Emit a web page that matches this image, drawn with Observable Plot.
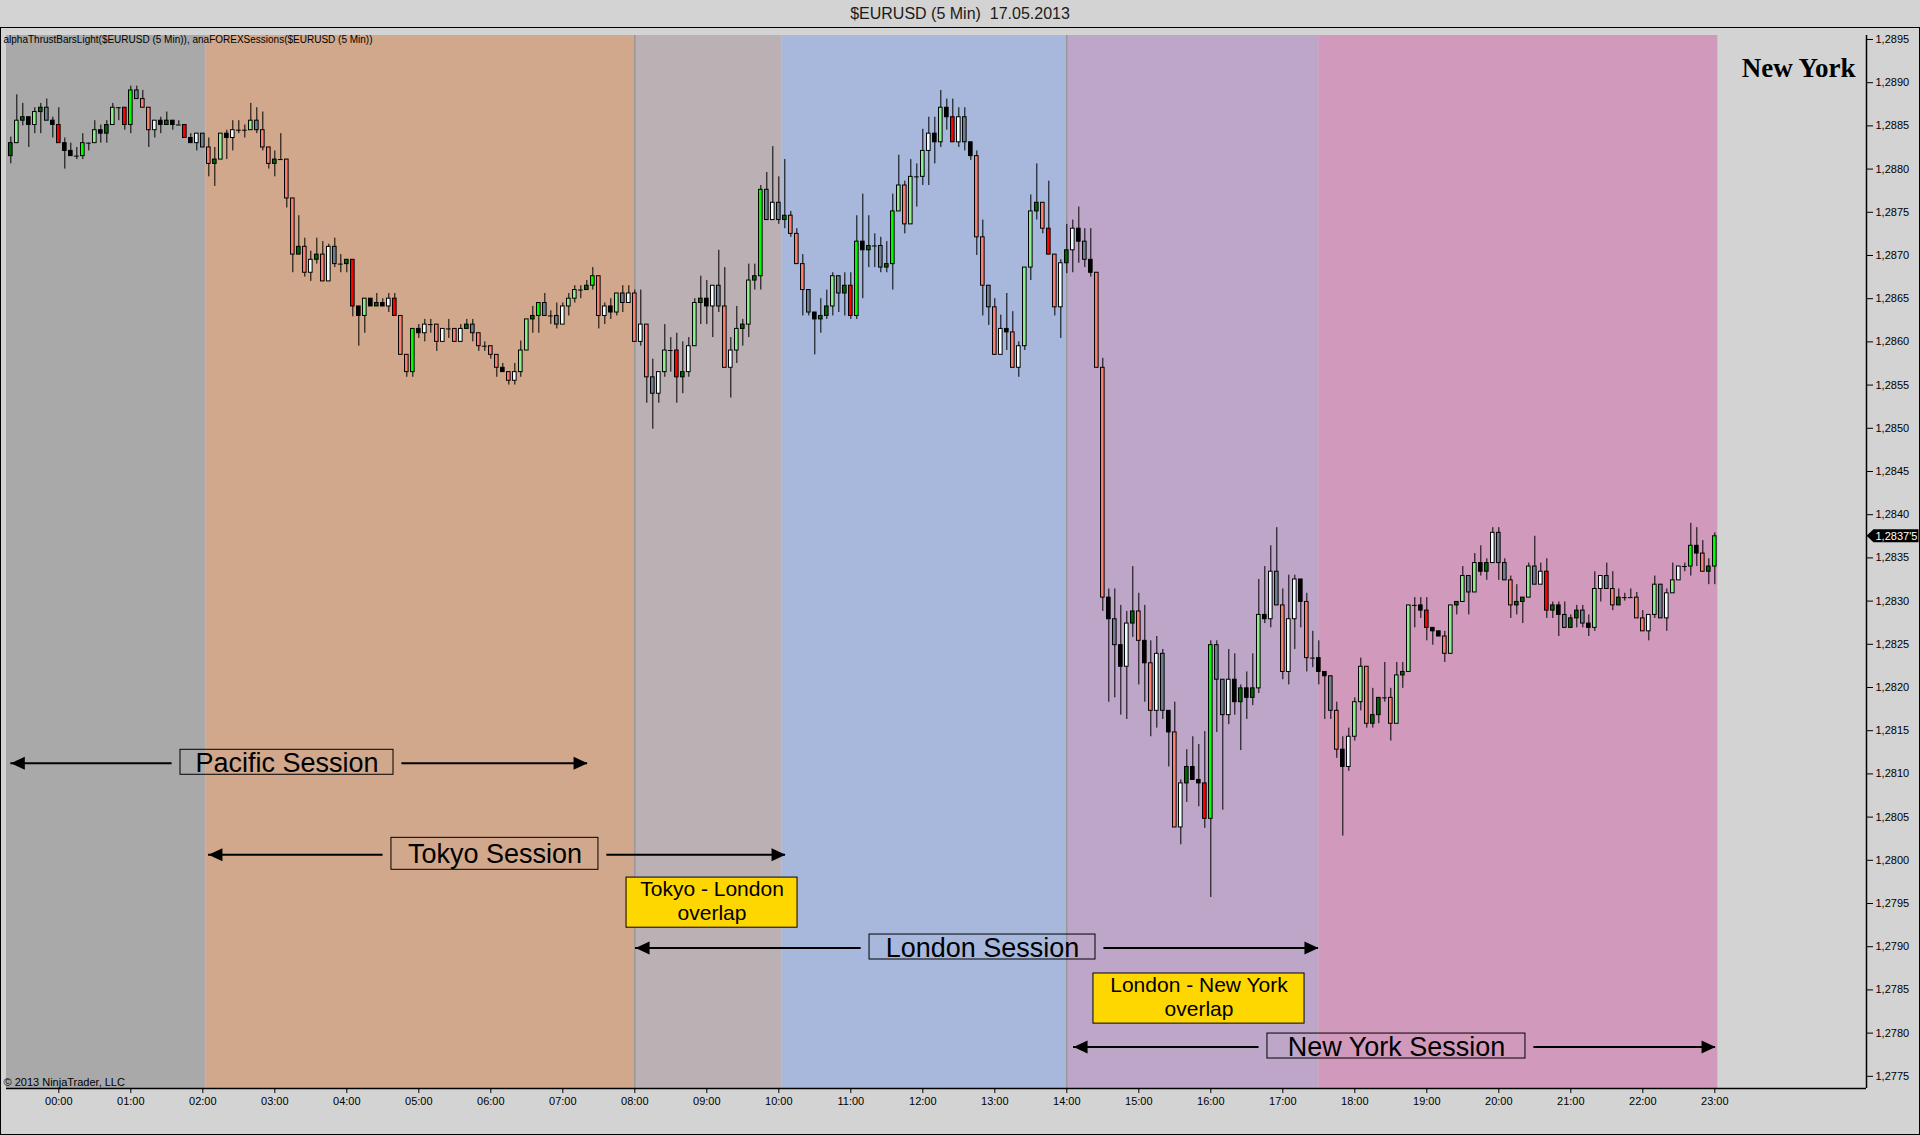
<!DOCTYPE html>
<html>
<head>
<meta charset="utf-8">
<script src="https://cdn.jsdelivr.net/npm/d3@7"></script>
<script src="https://cdn.jsdelivr.net/npm/@observablehq/plot@0.6"></script>
<style>
html, body { margin: 0; padding: 0; background: #d3d3d3; }
#wrap { position: relative; width: 1920px; height: 1135px; overflow: hidden; background: #d3d3d3; font-family: "Liberation Sans", Arial, sans-serif; }
#title { position: absolute; left: 0; top: 0; width: 1920px; height: 27px; line-height: 27px; text-align: center; font-size: 16px; color: #1a1a1a; }
#chart { position: absolute; left: 0; top: 28px; }
#frame { position: absolute; left: 0; top: 27px; width: 1918px; height: 1106px; border: 1px solid #000; pointer-events: none; }
</style>
</head>
<body>
<div id="wrap">
  <div id="title">$EURUSD (5 Min)&nbsp;&nbsp;17.05.2013</div>
  <div id="chart"></div>
  <div id="frame"></div>
</div>
<script>
// ---------- DATA ----------
// 5-minute bars, first bar 23:20 (16.05.2013), minutes relative to 00:00 of 17.05.2013
const firstBarMinute = -40;
const barMinutes = 5;

// alphaThrustBars colour class of each bar
const thrust = [
 "dg","lg","dg","k","lg","dg","gr","k","r","k",
 "k","k","g","k","lg","k","dg","lg","k","r",
 "g","gr","s","s","w","k","dg","k","k","r",
 "k","w","gr","s","dg","lg","k","w","k","k",
 "lg","gr","s","s","dg","k","s","s","dg","s",
 "w","dg","s","w","gr","k","dg","r","k","lg",
 "k","dg","k","w","r","s","s","g","k","w",
 "k","s","w","k","s","w","dg","gr","s","k",
 "s","s","k","s","w","lg","lg","dg","g","gr",
 "k","gr","w","lg","lg","k","dg","g","s","w",
 "k","lg","gr","w","s","w","s","gr","w","lg",
 "k","r","dg","w","lg","dg","k","w","gr","s",
 "w","lg","dg","lg","dg","g","gr","w","gr","dg",
 "s","s","s","gr","k","dg","dg","lg","gr","dg",
 "r","g","k","dg","k","gr","dg","g","lg","s",
 "lg","k","lg","w","k","lg","k","r","w","gr",
 "k","s","s","gr","s","w","k","s","w","lg",
 "lg","dg","s","r","s","w","dg","w","k","gr",
 "k","s","s","k","gr","k","w","dg","s","k",
 "s","w","gr","k","s","w","dg","k","k","r",
 "g","gr","gr","w","k","dg","k","dg","lg","k",
 "w","gr","s","w","w","k","s","k","k","k",
 "gr","s","k","w","lg","lg","s","dg","dg","k",
 "s","lg","dg","lg","k","k","r","k","k","s",
 "lg","dg","lg","gr","lg","k","dg","w","gr","gr",
 "s","dg","dg","lg","gr","w","r","dg","k","gr",
 "dg","dg","gr","k","lg","w","gr","s","dg","k",
 "k","s","s","w","lg","gr","w","lg","w","k",
 "g","k","s","dg","g"
];

const open = [
 1.28815,1.28830,1.28856,1.28860,1.28851,1.28866,1.28871,1.28856,1.28851,1.28830,
 1.28821,1.28815,1.28815,1.28830,1.28830,1.28845,1.28841,1.28851,1.28871,1.28871,
 1.28851,1.28891,1.28881,1.28871,1.28845,1.28856,1.28851,1.28856,1.28851,1.28851,
 1.28836,1.28830,1.28841,1.28825,1.28806,1.28811,1.28841,1.28836,1.28845,1.28845,
 1.28845,1.28856,1.28845,1.28825,1.28806,1.28811,1.28811,1.28766,1.28701,1.28710,
 1.28680,1.28695,1.28701,1.28670,1.28710,1.28690,1.28690,1.28695,1.28641,1.28630,
 1.28650,1.28641,1.28645,1.28641,1.28650,1.28630,1.28585,1.28565,1.28615,1.28610,
 1.28620,1.28620,1.28600,1.28615,1.28615,1.28600,1.28615,1.28620,1.28610,1.28595,
 1.28595,1.28585,1.28570,1.28565,1.28555,1.28565,1.28590,1.28626,1.28630,1.28645,
 1.28630,1.28630,1.28620,1.28641,1.28650,1.28660,1.28660,1.28665,1.28676,1.28630,
 1.28641,1.28634,1.28656,1.28645,1.28656,1.28600,1.28620,1.28559,1.28540,1.28565,
 1.28590,1.28590,1.28559,1.28565,1.28595,1.28645,1.28650,1.28641,1.28665,1.28641,
 1.28570,1.28590,1.28615,1.28620,1.28671,1.28676,1.28776,1.28741,1.28761,1.28741,
 1.28746,1.28725,1.28690,1.28660,1.28634,1.28626,1.28630,1.28641,1.28676,1.28656,
 1.28665,1.28630,1.28716,1.28706,1.28711,1.28711,1.28686,1.28690,1.28751,1.28781,
 1.28736,1.28791,1.28791,1.28821,1.28841,1.28831,1.28871,1.28860,1.28831,1.28860,
 1.28831,1.28815,1.28721,1.28665,1.28640,1.28585,1.28615,1.28611,1.28570,1.28595,
 1.28686,1.28751,1.28761,1.28731,1.28701,1.28640,1.28691,1.28706,1.28731,1.28716,
 1.28695,1.28680,1.28570,1.28304,1.28279,1.28249,1.28224,1.28274,1.28288,1.28254,
 1.28228,1.28173,1.28239,1.28173,1.28148,1.28038,1.28089,1.28108,1.28093,1.28089,
 1.28048,1.28249,1.28209,1.28168,1.28209,1.28183,1.28199,1.28188,1.28199,1.28284,
 1.28279,1.28334,1.28295,1.28218,1.28279,1.28325,1.28299,1.28234,1.28234,1.28218,
 1.28213,1.28173,1.28128,1.28108,1.28143,1.28183,1.28224,1.28158,1.28168,1.28188,
 1.28188,1.28158,1.28214,1.28218,1.28295,1.28295,1.28289,1.28269,1.28265,1.28259,
 1.28239,1.28295,1.28299,1.28329,1.28310,1.28344,1.28334,1.28344,1.28379,1.28344,
 1.28324,1.28295,1.28299,1.28304,1.28340,1.28319,1.28334,1.28289,1.28295,1.28284,
 1.28269,1.28280,1.28289,1.28274,1.28269,1.28314,1.28329,1.28314,1.28295,1.28304,
 1.28304,1.28304,1.28280,1.28265,1.28284,1.28319,1.28280,1.28309,1.28324,1.28340,
 1.28340,1.28364,1.28355,1.28334,1.28340
];

const high = [
 1.28837,1.28886,1.28876,1.28860,1.28871,1.28876,1.28881,1.28860,1.28871,1.28836,
 1.28830,1.28825,1.28841,1.28830,1.28856,1.28851,1.28856,1.28876,1.28871,1.28871,
 1.28896,1.28896,1.28891,1.28871,1.28856,1.28860,1.28866,1.28856,1.28856,1.28851,
 1.28841,1.28841,1.28841,1.28836,1.28825,1.28841,1.28845,1.28856,1.28856,1.28851,
 1.28876,1.28871,1.28866,1.28825,1.28821,1.28841,1.28811,1.28766,1.28746,1.28720,
 1.28705,1.28720,1.28716,1.28713,1.28720,1.28701,1.28695,1.28695,1.28641,1.28650,
 1.28650,1.28656,1.28650,1.28656,1.28656,1.28630,1.28585,1.28615,1.28620,1.28626,
 1.28626,1.28620,1.28615,1.28626,1.28615,1.28620,1.28626,1.28626,1.28610,1.28600,
 1.28595,1.28585,1.28575,1.28565,1.28575,1.28601,1.28626,1.28641,1.28645,1.28656,
 1.28636,1.28645,1.28645,1.28656,1.28665,1.28665,1.28671,1.28686,1.28676,1.28645,
 1.28650,1.28656,1.28665,1.28665,1.28660,1.28660,1.28620,1.28580,1.28565,1.28620,
 1.28605,1.28610,1.28600,1.28605,1.28650,1.28676,1.28671,1.28665,1.28706,1.28686,
 1.28605,1.28641,1.28626,1.28690,1.28690,1.28781,1.28796,1.28826,1.28791,1.28811,
 1.28751,1.28731,1.28701,1.28660,1.28634,1.28650,1.28660,1.28680,1.28676,1.28680,
 1.28680,1.28746,1.28771,1.28746,1.28725,1.28721,1.28716,1.28771,1.28816,1.28786,
 1.28811,1.28806,1.28846,1.28860,1.28860,1.28891,1.28881,1.28881,1.28871,1.28871,
 1.28831,1.28821,1.28741,1.28665,1.28650,1.28631,1.28656,1.28635,1.28600,1.28686,
 1.28770,1.28806,1.28761,1.28786,1.28701,1.28695,1.28736,1.28741,1.28756,1.28731,
 1.28731,1.28680,1.28581,1.28314,1.28314,1.28295,1.28288,1.28340,1.28309,1.28295,
 1.28254,1.28259,1.28244,1.28173,1.28183,1.28093,1.28128,1.28143,1.28134,1.28149,
 1.28254,1.28254,1.28209,1.28244,1.28239,1.28203,1.28218,1.28239,1.28325,1.28340,
 1.28364,1.28385,1.28314,1.28330,1.28330,1.28325,1.28309,1.28265,1.28254,1.28218,
 1.28213,1.28183,1.28143,1.28153,1.28188,1.28234,1.28224,1.28199,1.28188,1.28229,
 1.28199,1.28229,1.28229,1.28295,1.28304,1.28304,1.28304,1.28269,1.28265,1.28265,
 1.28295,1.28299,1.28340,1.28329,1.28355,1.28364,1.28349,1.28385,1.28385,1.28349,
 1.28329,1.28319,1.28304,1.28344,1.28375,1.28344,1.28349,1.28299,1.28299,1.28299,
 1.28284,1.28295,1.28295,1.28284,1.28334,1.28329,1.28344,1.28334,1.28314,1.28309,
 1.28314,1.28310,1.28289,1.28284,1.28329,1.28319,1.28314,1.28344,1.28340,1.28344,
 1.28390,1.28385,1.28370,1.28349,1.28379
];

const low = [
 1.28806,1.28830,1.28850,1.28825,1.28841,1.28841,1.28856,1.28836,1.28830,1.28800,
 1.28815,1.28811,1.28811,1.28821,1.28830,1.28830,1.28830,1.28851,1.28856,1.28845,
 1.28841,1.28881,1.28871,1.28825,1.28836,1.28841,1.28851,1.28845,1.28851,1.28836,
 1.28830,1.28821,1.28825,1.28791,1.28780,1.28811,1.28811,1.28821,1.28841,1.28836,
 1.28845,1.28841,1.28821,1.28800,1.28791,1.28811,1.28755,1.28680,1.28701,1.28675,
 1.28670,1.28690,1.28670,1.28670,1.28686,1.28680,1.28680,1.28629,1.28595,1.28610,
 1.28641,1.28641,1.28641,1.28634,1.28630,1.28585,1.28559,1.28559,1.28604,1.28600,
 1.28610,1.28589,1.28600,1.28604,1.28600,1.28600,1.28615,1.28600,1.28589,1.28589,
 1.28580,1.28559,1.28565,1.28550,1.28550,1.28559,1.28590,1.28610,1.28610,1.28630,
 1.28620,1.28615,1.28620,1.28630,1.28645,1.28650,1.28660,1.28660,1.28615,1.28620,
 1.28626,1.28630,1.28634,1.28645,1.28600,1.28595,1.28529,1.28499,1.28529,1.28559,
 1.28565,1.28529,1.28540,1.28559,1.28595,1.28620,1.28620,1.28605,1.28634,1.28570,
 1.28535,1.28575,1.28595,1.28605,1.28660,1.28660,1.28741,1.28741,1.28736,1.28731,
 1.28721,1.28690,1.28630,1.28630,1.28585,1.28610,1.28626,1.28630,1.28634,1.28630,
 1.28626,1.28626,1.28650,1.28686,1.28686,1.28680,1.28680,1.28660,1.28751,1.28725,
 1.28736,1.28756,1.28781,1.28781,1.28806,1.28825,1.28845,1.28831,1.28825,1.28821,
 1.28810,1.28700,1.28630,1.28619,1.28585,1.28585,1.28590,1.28570,1.28559,1.28590,
 1.28671,1.28741,1.28725,1.28701,1.28630,1.28604,1.28679,1.28680,1.28691,1.28686,
 1.28675,1.28570,1.28288,1.28183,1.28188,1.28168,1.28163,1.28258,1.28203,1.28183,
 1.28143,1.28153,1.28163,1.28108,1.28038,1.28018,1.28067,1.28093,1.28062,1.28037,
 1.27957,1.28148,1.28058,1.28157,1.28168,1.28127,1.28163,1.28179,1.28193,1.28274,
 1.28269,1.28295,1.28209,1.28203,1.28244,1.28269,1.28218,1.28223,1.28203,1.28163,
 1.28163,1.28118,1.28028,1.28103,1.28138,1.28173,1.28153,1.28153,1.28158,1.28183,
 1.28138,1.28158,1.28199,1.28218,1.28269,1.28280,1.28254,1.28249,1.28259,1.28229,
 1.28239,1.28284,1.28299,1.28284,1.28310,1.28329,1.28324,1.28344,1.28324,1.28324,
 1.28280,1.28284,1.28274,1.28304,1.28319,1.28319,1.28280,1.28280,1.28259,1.28269,
 1.28269,1.28269,1.28269,1.28259,1.28265,1.28299,1.28314,1.28289,1.28295,1.28300,
 1.28304,1.28280,1.28265,1.28254,1.28280,1.28280,1.28265,1.28309,1.28324,1.28334,
 1.28329,1.28340,1.28334,1.28319,1.28319
];

const close = [
 1.28830,1.28856,1.28860,1.28851,1.28866,1.28871,1.28856,1.28851,1.28830,1.28821,
 1.28815,1.28815,1.28830,1.28830,1.28845,1.28841,1.28851,1.28871,1.28871,1.28851,
 1.28891,1.28881,1.28871,1.28845,1.28856,1.28851,1.28856,1.28851,1.28851,1.28836,
 1.28830,1.28841,1.28825,1.28806,1.28811,1.28841,1.28836,1.28845,1.28845,1.28845,
 1.28856,1.28845,1.28825,1.28806,1.28811,1.28811,1.28766,1.28701,1.28710,1.28680,
 1.28695,1.28701,1.28670,1.28710,1.28690,1.28690,1.28695,1.28641,1.28630,1.28650,
 1.28641,1.28645,1.28641,1.28650,1.28630,1.28585,1.28565,1.28615,1.28610,1.28620,
 1.28620,1.28600,1.28615,1.28615,1.28600,1.28615,1.28620,1.28610,1.28595,1.28595,
 1.28585,1.28570,1.28565,1.28555,1.28565,1.28590,1.28626,1.28630,1.28645,1.28630,
 1.28630,1.28620,1.28641,1.28650,1.28660,1.28660,1.28665,1.28676,1.28630,1.28641,
 1.28634,1.28656,1.28645,1.28656,1.28600,1.28620,1.28559,1.28540,1.28565,1.28590,
 1.28590,1.28559,1.28565,1.28595,1.28645,1.28650,1.28641,1.28665,1.28641,1.28570,
 1.28590,1.28615,1.28620,1.28671,1.28676,1.28776,1.28741,1.28761,1.28741,1.28746,
 1.28725,1.28690,1.28660,1.28634,1.28626,1.28630,1.28641,1.28676,1.28656,1.28665,
 1.28630,1.28716,1.28706,1.28711,1.28711,1.28686,1.28690,1.28751,1.28781,1.28736,
 1.28791,1.28791,1.28821,1.28841,1.28831,1.28871,1.28860,1.28831,1.28860,1.28831,
 1.28815,1.28721,1.28665,1.28640,1.28585,1.28615,1.28611,1.28570,1.28595,1.28686,
 1.28751,1.28761,1.28731,1.28701,1.28640,1.28691,1.28706,1.28731,1.28716,1.28695,
 1.28680,1.28570,1.28304,1.28279,1.28249,1.28224,1.28274,1.28288,1.28254,1.28228,
 1.28173,1.28239,1.28173,1.28148,1.28038,1.28089,1.28108,1.28093,1.28089,1.28048,
 1.28249,1.28209,1.28168,1.28209,1.28183,1.28199,1.28188,1.28199,1.28284,1.28279,
 1.28334,1.28295,1.28218,1.28279,1.28325,1.28299,1.28234,1.28234,1.28218,1.28213,
 1.28173,1.28128,1.28108,1.28143,1.28183,1.28224,1.28158,1.28168,1.28188,1.28188,
 1.28158,1.28214,1.28218,1.28295,1.28295,1.28289,1.28269,1.28265,1.28259,1.28239,
 1.28295,1.28299,1.28329,1.28310,1.28344,1.28334,1.28344,1.28379,1.28344,1.28324,
 1.28295,1.28299,1.28304,1.28340,1.28319,1.28334,1.28289,1.28295,1.28284,1.28269,
 1.28280,1.28289,1.28274,1.28269,1.28314,1.28329,1.28314,1.28295,1.28304,1.28304,
 1.28304,1.28280,1.28265,1.28284,1.28319,1.28280,1.28309,1.28324,1.28340,1.28340,
 1.28364,1.28355,1.28334,1.28340,1.28375
];

const hourLabels = ["00:00","01:00","02:00","03:00","04:00","05:00","06:00","07:00",
  "08:00","09:00","10:00","11:00","12:00","13:00","14:00","15:00",
  "16:00","17:00","18:00","19:00","20:00","21:00","22:00","23:00"];
const priceTicks = [1.2775,1.2780,1.2785,1.2790,1.2795,1.2800,1.2805,1.2810,1.2815,
  1.2820,1.2825,1.2830,1.2835,1.2840,1.2845,1.2850,1.2855,1.2860,1.2865,1.2870,
  1.2875,1.2880,1.2885,1.2890,1.2895];

// session shading (minutes from midnight)
const sessionNames = ["Pacific","Tokyo","Tokyo - London overlap","London","London - New York overlap","New York"];
const sessionStart = [-43.6, 122.5, 480, 602.5, 840, 1050];
const sessionEnd   = [122.5, 480, 602.5, 840, 1050, 1382.5];
const sessionBoundaries = [480, 840];

// session annotations
const sessionLabels = ["Pacific Session","Tokyo Session","London Session","New York Session"];
const labelMinute   = [190.2, 363.5, 769.7, 1114.7];
const labelPrice    = [1.281134, 1.280075, 1.278997, 1.277851];
const labelBoxFrom  = [101.4, 277.2, 675.6, 1007.2];
const labelBoxTo    = [278.9, 449.7, 863.9, 1222.2];
const labelBoxTop   = [1.281279, 1.280260, 1.279141, 1.277995];
const labelBoxBottom= [1.280990, 1.279890, 1.278852, 1.277706];
const arrowFrom     = [-40, 124.7, 480.6, 845.6];
const arrowTo       = [440.6, 605.6, 1049.7, 1380.6];

const overlapLabels = ["Tokyo - London\noverlap", "London - New York\noverlap"];
const overlapFrom   = [473.1, 862.2];
const overlapTo     = [615.6, 1038.1];
const overlapTop    = [1.27980, 1.27869];
const overlapBottom = [1.27922, 1.27811];

const indicatorText = "alphaThrustBarsLight($EURUSD (5 Min)), anaFOREXSessions($EURUSD (5 Min))";
const copyrightText = "\u00A9 2013 NinjaTrader, LLC";
const currentSession = "New York";

// ---------- STYLES ----------
const thrustColor = {lg: "#90EE90", g: "#00FF00", dg: "#006400", r: "#FF0000", s: "#FA8072", k: "#000000", w: "#F0FFFF", gr: "#708090"};
const sessionFill = {
  "Pacific": "#A9A9A9",
  "Tokyo": "#D1A88B",
  "Tokyo - London overlap": "#BBB0B4",
  "London": "#A7B8DC",
  "London - New York overlap": "#BEA6C9",
  "New York": "#D19ABC"
};
const xDomain = [-43.6, 1506.4];
const yDomain = [1.277359, 1.289546];
const labelFont = "'Liberation Sans', Arial, sans-serif";

// ---------- BUILD ----------
const bars = open.map((o, i) => ({
  t: firstBarMinute + barMinutes * i,
  open: o, high: high[i], low: low[i], close: close[i], thrust: thrust[i]
}));
const bodies = bars.filter(d => d.open !== d.close);
const dojis = bars.filter(d => d.open === d.close);
const sessions = sessionNames.map((name, i) => ({name, start: sessionStart[i], end: sessionEnd[i]}));
const labels = sessionLabels.map((text, i) => ({
  text, x: labelMinute[i], y: labelPrice[i],
  bx1: labelBoxFrom[i], bx2: labelBoxTo[i], by1: labelBoxBottom[i], by2: labelBoxTop[i],
  a1: arrowFrom[i], a2: arrowTo[i]
}));
const overlaps = overlapLabels.map((text, i) => ({
  text, x1: overlapFrom[i], x2: overlapTo[i], y1: overlapBottom[i], y2: overlapTop[i]
}));
const gap = 7;

const arrowRight = {draw(ctx) { ctx.moveTo(0, 0); ctx.lineTo(-14, -6.5); ctx.lineTo(-14, 6.5); ctx.closePath(); }};
const arrowLeft  = {draw(ctx) { ctx.moveTo(0, 0); ctx.lineTo(14, -6.5); ctx.lineTo(14, 6.5); ctx.closePath(); }};

const lastClose = close[close.length - 1];
function priceTag(index, scales, values, dimensions) {
  const y = scales.y(lastClose);
  const x0 = dimensions.width - dimensions.marginRight + 0.5;
  const s = lastClose.toFixed(5).replace(".", ",");
  const label = s.slice(0, -1) + "'" + s.slice(-1);
  const g = d3.create("svg:g");
  g.append("path")
    .attr("d", `M${x0},${y} L${x0 + 7},${y - 6.5} H${x0 + 52} V${y + 6.5} H${x0 + 7} Z`)
    .attr("fill", "#000");
  g.append("text")
    .attr("x", x0 + 9).attr("y", y).attr("dy", "0.35em")
    .attr("text-anchor", "start")
    .attr("fill", "#fff").attr("font-size", 11)
    .attr("font-family", labelFont)
    .text(label);
  return g.node();
}

const chart = Plot.plot({
  width: 1920,
  height: 1107,
  marginLeft: 6,
  marginRight: 54,
  marginTop: 7,
  marginBottom: 47,
  style: {background: "transparent", color: "#000", fontFamily: labelFont, fontSize: "11px", overflow: "visible"},
  x: {type: "linear", domain: xDomain},
  y: {type: "linear", domain: yDomain},
  marks: [
    // sessions
    Plot.rect(sessions, {x1: "start", x2: "end", y1: yDomain[0], y2: yDomain[1], fill: d => sessionFill[d.name]}),
    Plot.ruleX(sessionBoundaries, {stroke: "#8a8a8a", strokeWidth: 1}),
    // candles
    Plot.ruleX(bars, {x: "t", y1: "low", y2: "high", stroke: "#000", strokeWidth: 1}),
    Plot.rect(bodies, {x1: d => d.t - 1.5, x2: d => d.t + 1.5, y1: "open", y2: "close",
      fill: d => thrustColor[d.thrust], stroke: "#000", strokeWidth: 1}),
    Plot.ruleY(dojis, {x1: d => d.t - 2, x2: d => d.t + 2, y: "close", stroke: "#000", strokeWidth: 1}),
    // session annotations
    Plot.rect(labels, {x1: "bx1", x2: "bx2", y1: "by1", y2: "by2", fill: "none", stroke: "#000", strokeWidth: 1}),
    Plot.text(labels, {x: "x", y: "y", text: "text", fontSize: 27, fill: "#000", fontFamily: labelFont, lineAnchor: "middle", dy: 1}),
    Plot.ruleY(labels, {x1: "a1", x2: d => d.bx1 - gap, y: "y", stroke: "#000", strokeWidth: 2, dy: 1}),
    Plot.ruleY(labels, {x1: d => d.bx2 + gap, x2: "a2", y: "y", stroke: "#000", strokeWidth: 2, dy: 1}),
    Plot.dot(labels, {x: "a1", y: "y", symbol: arrowLeft, r: 6, fill: "#000", dy: 1}),
    Plot.dot(labels, {x: "a2", y: "y", symbol: arrowRight, r: 6, fill: "#000", dy: 1}),
    Plot.rect(overlaps, {x1: "x1", x2: "x2", y1: "y1", y2: "y2", fill: "#FFD700", stroke: "#000", strokeWidth: 1}),
    Plot.text(overlaps, {x: d => (d.x1 + d.x2) / 2, y: d => (d.y1 + d.y2) / 2, text: "text", fontSize: 21,
      lineHeight: 1.15, fill: "#000", fontFamily: labelFont, lineAnchor: "middle", dy: -2}),
    // texts
    Plot.text([indicatorText], {frameAnchor: "top-left", dx: -3, dy: 4.5, fontSize: 10, fill: "#000", lineAnchor: "middle", textAnchor: "start"}),
    Plot.text([copyrightText], {frameAnchor: "bottom-left", dx: -3, dy: -6, fontSize: 11, fill: "#000", lineAnchor: "middle", textAnchor: "start"}),
    Plot.text([currentSession], {frameAnchor: "top-right", dx: -11, dy: 33, fontSize: 27, fontWeight: "bold",
      fontFamily: "'Liberation Serif', 'Times New Roman', serif", fill: "#000", lineAnchor: "middle", textAnchor: "end"}),
    // axes
    Plot.ruleY([yDomain[0]], {stroke: "#000", strokeWidth: 1.5}),
    Plot.ruleX([xDomain[1]], {stroke: "#000", strokeWidth: 1.5}),
    Plot.axisX({ticks: hourLabels.map((_, i) => i * 60), tickFormat: d => hourLabels[Math.round(d / 60)],
      tickSize: 5, tickPadding: 4, label: null, fontSize: 11, anchor: "bottom"}),
    Plot.axisY({anchor: "right", ticks: priceTicks, tickFormat: d => d.toFixed(4).replace(".", ","),
      tickSize: 6, tickPadding: 3, label: null, fontSize: 11}),
    priceTag
  ]
});
document.getElementById("chart").appendChild(chart);
</script>
</body>
</html>
